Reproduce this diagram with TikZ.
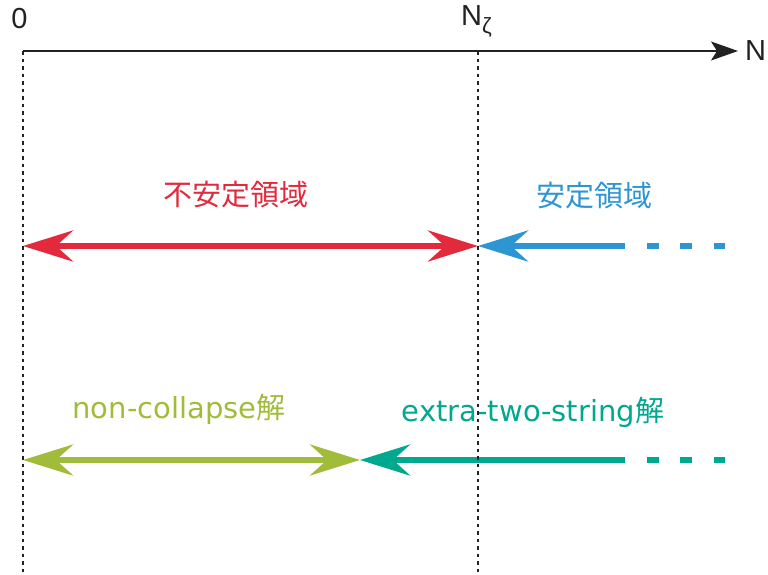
\documentclass[tikz,border=0pt]{standalone}
\usepackage{fontspec}
\setmainfont{DejaVu Sans}
\newfontfamily\cjk{Noto Sans CJK JP}
\newfontfamily\axfont{Liberation Sans}
\usetikzlibrary{arrows.meta}
\definecolor{cred}{HTML}{E32A3C}
\definecolor{cblue}{HTML}{2E95D3}
\definecolor{colive}{HTML}{A0BC3A}
\definecolor{cteal}{HTML}{00A88F}
\definecolor{caxis}{HTML}{222222}
\tikzset{bigtip/.tip={Stealth[length=50pt,width=31pt,inset=17pt]},
  axtip/.tip={Stealth[length=27pt,width=19pt,inset=6pt]}}
\begin{document}
\begin{tikzpicture}[x=1pt,y=-1pt,
  axislbl/.style={inner sep=0pt,font=\axfont\fontsize{29}{31}\selectfont,text=caxis},
  lbl/.style={inner sep=0pt,font=\fontsize{29}{34}\selectfont},
  guide/.style={caxis,line width=1.1pt,dash pattern=on 3.5pt off 4pt},
  fat/.style={line width=6.5pt},
  tail/.style={line width=6.5pt,dash pattern=on 11.5pt off 21.8pt}]
\useasboundingbox (0,0) rectangle (768,574);
% coordinates
\coordinate (O) at (23,51);
\coordinate (Oend) at (23,574);
\coordinate (Z) at (478,51);
\coordinate (Zend) at (478,574);
\coordinate (Axend) at (738,51);
\coordinate (R1) at (23,246);
\coordinate (R2) at (478,246);
\coordinate (B1) at (625,246);
\coordinate (B2) at (647,246);
\coordinate (B3) at (727,246);
\coordinate (G1) at (23,460);
\coordinate (G2) at (360,460);
\coordinate (T1) at (625,460);
\coordinate (T2) at (647,460);
\coordinate (T3) at (727,460);
% axis labels
\node[axislbl,anchor=base] (zero) at (19.5,28) {0};
\node[axislbl,anchor=base west] (nz) at (461,25) {N\raisebox{-8pt}{\fontsize{22}{24}\selectfont ζ}};
\node[axislbl,anchor=base west] (nlab) at (745,60) {N};
% axis
\draw[caxis,line width=1.3pt,-axtip] (O) -- (Axend);
% red
\node[lbl,text=cred,font=\cjk\fontsize{29}{34}\selectfont] (unstable) at (236,195) {不安定領域};
\draw[cred,fat,bigtip-bigtip] (R1) -- (R2);
% blue
\node[lbl,text=cblue,font=\cjk\fontsize{29}{34}\selectfont] (stable) at (594,196) {安定領域};
\draw[cblue,fat,bigtip-] (R2) -- (B1);
\draw[cblue,tail] (B2) -- (B3);
% olive
\node[lbl,text=colive,anchor=base] (noncol) at (179,418) {non-collapse{\cjk 解}};
\draw[colive,fat,bigtip-bigtip] (G1) -- (G2);
% teal
\node[lbl,text=cteal,anchor=base] (extra) at (533,421) {extra-two-string{\cjk 解}};
\draw[cteal,fat,bigtip-] (G2) -- (T1);
\draw[cteal,tail] (T2) -- (T3);
% guides on top
\draw[guide] (O) -- (Oend);
\draw[guide] (Z) -- (Zend);
\end{tikzpicture}
\end{document}
